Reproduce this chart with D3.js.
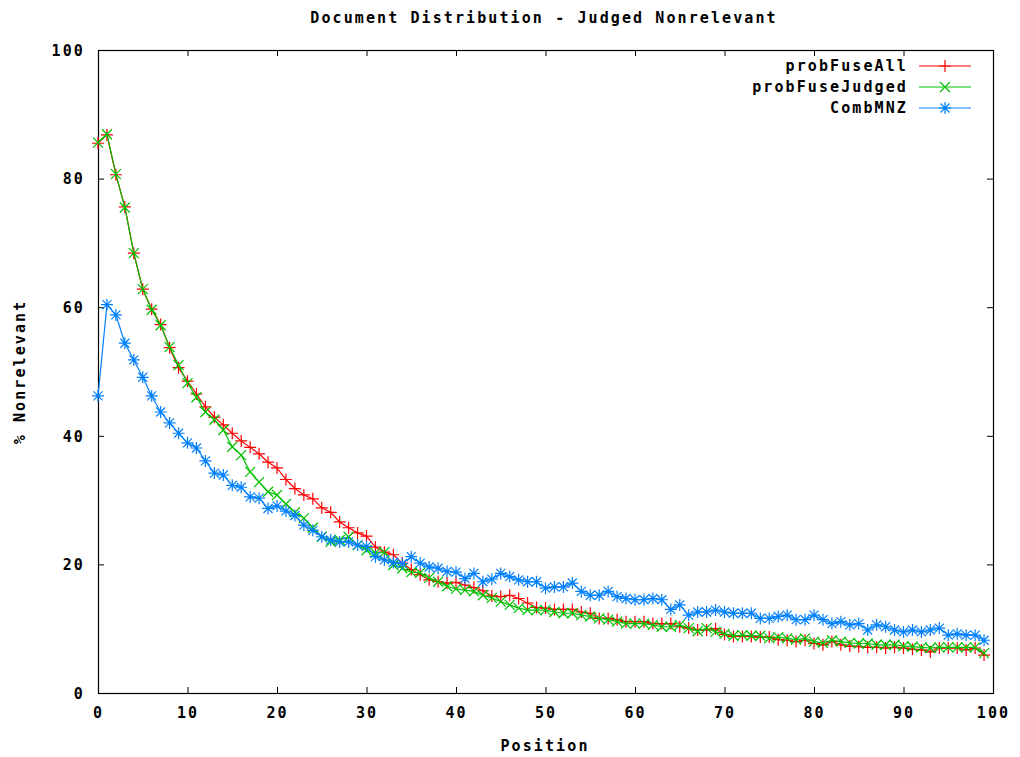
<!DOCTYPE html>
<html>
<head>
<meta charset="utf-8">
<script src="https://cdn.jsdelivr.net/npm/d3@7"></script>
<style>
  html, body { margin: 0; padding: 0; background: #fff; }
  svg { display: block; }
  text { font-family: "DejaVu Sans Mono", monospace; font-weight: bold; font-size: 15px; fill: #000; letter-spacing: 2.1px; }
</style>
</head>
<body>
<svg id="chart" width="1020" height="757"></svg>
<script>
// Document positions 0..99
const positions = d3.range(0, 100);

// % of documents judged nonrelevant at each position
const probFuseAll = [
  85.5, 86.8, 80.6, 75.6, 68.4, 62.8, 59.7, 57.3, 53.7, 50.6,
  48.5, 46.5, 44.5, 42.9, 41.7, 40.4, 39.2, 38.2, 37.2, 35.9,
  35.0, 33.2, 31.8, 30.8, 30.2, 28.8, 28.1, 26.6, 25.7, 24.9,
  24.4, 22.7, 21.9, 21.5, 20.2, 19.2, 18.4, 17.6, 17.3, 17.1,
  17.2, 16.8, 16.4, 15.9, 15.1, 15.0, 15.2, 14.7, 14.0, 13.3,
  13.2, 13.0, 13.0, 13.0, 12.6, 12.4, 11.6, 11.6, 11.4, 11.1,
  11.1, 11.1, 10.8, 10.8, 10.8, 10.3, 10.1, 9.8, 9.8, 10.0,
  9.1, 8.8, 8.8, 8.8, 8.7, 8.7, 8.3, 8.2, 8.0, 8.2,
  7.7, 7.5, 8.0, 7.5, 7.3, 7.2, 7.1, 7.1, 7.0, 7.1,
  7.0, 6.8, 6.7, 6.4, 7.0, 7.0, 7.0, 6.7, 7.0, 5.9
];

const probFuseJudged = [
  85.6, 86.9, 80.7, 75.5, 68.4, 62.8, 59.6, 57.2, 53.8, 51.0,
  48.2, 46.0, 43.7, 42.5, 40.9, 38.3, 37.0, 34.4, 32.8, 31.3,
  30.8, 29.4, 28.1, 27.2, 25.7, 24.3, 23.5, 23.8, 24.3, 23.0,
  22.2, 21.8, 21.9, 19.9, 19.4, 18.8, 18.7, 17.9, 17.3, 16.6,
  16.2, 16.0, 15.8, 15.2, 14.8, 14.2, 13.7, 13.2, 12.9, 12.9,
  12.9, 12.6, 12.4, 12.4, 12.1, 11.9, 11.6, 11.4, 11.1, 10.8,
  10.8, 10.8, 10.6, 10.3, 10.3, 10.6, 10.1, 9.6, 10.1, 9.5,
  9.2, 8.9, 9.0, 8.9, 8.9, 8.5, 8.7, 8.5, 8.3, 8.5,
  8.0, 7.8, 8.2, 8.0, 7.8, 7.7, 7.7, 7.5, 7.5, 7.5,
  7.3, 7.2, 7.1, 7.0, 7.1, 7.1, 7.1, 7.1, 7.1, 6.2
];

const combMNZ = [
  46.2, 60.4, 58.8, 54.4, 51.8, 49.1, 46.2, 43.7, 42.0, 40.4,
  38.9, 38.1, 36.1, 34.2, 33.9, 32.3, 32.0, 30.5, 30.3, 28.7,
  29.1, 28.3, 27.6, 26.1, 25.3, 24.3, 23.8, 23.5, 23.5, 23.0,
  22.8, 21.2, 20.7, 20.3, 20.1, 21.2, 20.2, 19.6, 19.4, 18.9,
  18.8, 17.8, 18.6, 17.3, 17.7, 18.6, 18.1, 17.6, 17.3, 17.3,
  16.3, 16.5, 16.5, 17.1, 15.8, 15.2, 15.2, 15.8, 15.0, 14.7,
  14.5, 14.5, 14.7, 14.5, 13.0, 13.7, 12.1, 12.6, 12.6, 12.9,
  12.6, 12.4, 12.4, 12.4, 11.6, 11.6, 11.9, 12.1, 11.4, 11.4,
  12.1, 11.4, 10.8, 11.1, 10.6, 10.8, 9.8, 10.6, 10.3, 9.8,
  9.5, 9.8, 9.5, 9.8, 10.1, 9.0, 9.2, 9.0, 9.0, 8.2
];

const seriesNames = ["probFuseAll", "probFuseJudged", "CombMNZ"];
const seriesColors = ["#ff0000", "#00c000", "#0080ff"];
const seriesMarkers = ["plus", "cross", "star"];

const xTicks = [0, 10, 20, 30, 40, 50, 60, 70, 80, 90, 100];
const yTicks = [0, 20, 40, 60, 80, 100];

const titleText = "Document Distribution - Judged Nonrelevant";
const xLabel = "Position";
const yLabel = "% Nonrelevant";

const svg = d3.select("#chart");
const plotLeft = 98, plotRight = 993, plotTop = 50, plotBottom = 693;

const x = d3.scaleLinear().domain([0, 100]).range([plotLeft, plotRight]);
const y = d3.scaleLinear().domain([0, 100]).range([plotBottom, plotTop]);

// marker glyphs in gnuplot style: plus, cross and the combined star
function markerPath(kind, cx, cy) {
  const p = 6, c = 4.5;
  const plus = `M${cx - p},${cy}H${cx + p}M${cx},${cy - p}V${cy + p}`;
  const cross = `M${cx - c},${cy - c}L${cx + c},${cy + c}M${cx - c},${cy + c}L${cx + c},${cy - c}`;
  if (kind === "plus") return plus;
  if (kind === "cross") return `M${cx - 5},${cy - 5}L${cx + 5},${cy + 5}M${cx - 5},${cy + 5}L${cx + 5},${cy - 5}`;
  return plus + cross;
}

// axis frame with inward ticks on all four sides
const gAxes = svg.append("g");
const tickLen = 6;

const xAxisB = d3.axisBottom(x).tickValues(xTicks).tickSize(-tickLen).tickFormat(d3.format("d")).tickPadding(22);
const xAxisT = d3.axisTop(x).tickValues(xTicks).tickSize(-tickLen).tickFormat("");
const yAxisL = d3.axisLeft(y).tickValues(yTicks).tickSize(-tickLen).tickFormat(d3.format("d")).tickPadding(13);
const yAxisR = d3.axisRight(y).tickValues(yTicks).tickSize(-tickLen).tickFormat("");

function styleAxis(g) {
  g.select(".domain").remove();
  g.selectAll(".tick line").attr("stroke", "#000").attr("stroke-width", 1);
  g.selectAll("text").attr("font-family", null).attr("font-size", null).attr("fill", "#000");
}

gAxes.append("g").attr("transform", `translate(0,${plotBottom})`).call(xAxisB).call(styleAxis)
  .selectAll("text").attr("dy", "0.2em");
gAxes.append("g").attr("transform", `translate(0,${plotTop})`).call(xAxisT).call(styleAxis);
gAxes.append("g").attr("transform", `translate(${plotLeft},0)`).call(yAxisL).call(styleAxis)
  .selectAll("text").attr("dy", "0.35em");
gAxes.append("g").attr("transform", `translate(${plotRight},0)`).call(yAxisR).call(styleAxis);

// end ticks coincide with the frame
gAxes.selectAll(".tick line").filter(function (d) { return d === 0 || d === 100; }).remove();

gAxes.append("rect")
  .attr("x", plotLeft + 0.5).attr("y", plotTop + 0.5)
  .attr("width", plotRight - plotLeft).attr("height", plotBottom - plotTop)
  .attr("fill", "none").attr("stroke", "#000").attr("stroke-width", 1.2);

// series: connecting line, then point markers
const allSeries = [probFuseAll, probFuseJudged, combMNZ];
const line = d3.line().x((d, i) => x(positions[i])).y(d => y(d));

const gData = svg.append("g");
allSeries.forEach((vals, si) => {
  const g = gData.append("g");
  g.append("path")
    .attr("d", line(vals))
    .attr("fill", "none")
    .attr("stroke", seriesColors[si])
    .attr("stroke-width", 1.2);
  g.selectAll("path.pt")
    .data(vals)
    .join("path")
    .attr("class", "pt")
    .attr("d", (d, i) => markerPath(seriesMarkers[si], x(positions[i]), y(d)))
    .attr("stroke", seriesColors[si])
    .attr("stroke-width", 1.2)
    .attr("fill", "none");
});

// legend
const legend = svg.append("g");
seriesNames.forEach((name, i) => {
  const ly = 66 + i * 21;
  legend.append("text")
    .attr("x", 908).attr("y", ly)
    .attr("dy", "0.35em")
    .attr("text-anchor", "end")
    .text(name);
  legend.append("line")
    .attr("x1", 919).attr("x2", 971)
    .attr("y1", ly).attr("y2", ly)
    .attr("stroke", seriesColors[i]).attr("stroke-width", 1.2);
  legend.append("path")
    .attr("d", markerPath(seriesMarkers[i], 945, ly))
    .attr("stroke", seriesColors[i]).attr("stroke-width", 1.2).attr("fill", "none");
});

// titles
svg.append("text")
  .attr("x", 544).attr("y", 18).attr("dy", "0.35em")
  .attr("text-anchor", "middle")
  .text(titleText);

svg.append("text")
  .attr("x", 545).attr("y", 746).attr("dy", "0.35em")
  .attr("text-anchor", "middle")
  .text(xLabel);

svg.append("text")
  .attr("transform", "translate(20,372) rotate(-90)")
  .attr("dy", "0.35em")
  .attr("text-anchor", "middle")
  .text(yLabel);
</script>
</body>
</html>
